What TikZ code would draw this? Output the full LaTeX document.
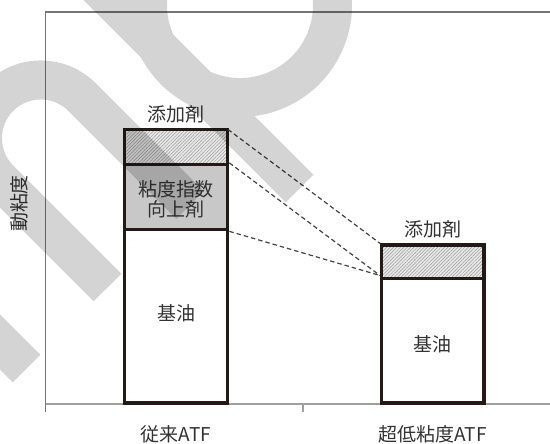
\documentclass[tikz,border=0pt]{standalone}
\usepackage{fontspec}
\setmainfont{Noto Sans CJK JP}
\usetikzlibrary{patterns.meta}
\definecolor{ink}{RGB}{51,51,51}
\definecolor{barline}{RGB}{35,26,24}
\definecolor{frameline}{RGB}{118,118,118}
\definecolor{axisline}{RGB}{160,160,160}
\definecolor{vifill}{RGB}{200,200,200}
\definecolor{hatchbg}{RGB}{232,232,232}
\definecolor{hatchln}{RGB}{155,155,155}
\definecolor{dashline}{RGB}{68,68,68}
\begin{document}
\begin{tikzpicture}[x=1pt,y=-1pt,
  lbl/.style={font=\fontsize{19}{20.5}\selectfont, text=ink, inner sep=0pt, align=center},
  seg/.style={draw=barline, line width=3.3pt, inner sep=0pt},
  hatchseg/.style={seg, preaction={fill=hatchbg},
    pattern={Lines[angle=45,distance=2.4pt,line width=0.5pt]}, pattern color=hatchln},
  viseg/.style={seg, fill=vifill},
  baseseg/.style={seg, fill=white},
  dashconn/.style={draw=dashline, line width=1.2pt, dash pattern=on 4.5pt off 3pt},
  frame/.style={draw=frameline, line width=1.3pt},
  axis/.style={draw=axisline, line width=1.2pt},
  wmark/.style={draw=black, opacity=0.17, line width=39pt, line cap=butt, line join=round}
]
\useasboundingbox (0,0) rectangle (550,444);
\fill[white] (0,0) rectangle (550,444);

% frame and axis
\coordinate (ftl) at (45.7,12);
\coordinate (ftr) at (550,12);
\coordinate (fbl) at (45.7,412);
\coordinate (ax0) at (45.7,404);
\coordinate (ax1) at (550,404);
\coordinate (tk0) at (303,404);
\coordinate (tk1) at (303,412);
\draw[frame] (fbl) -- (ftl) -- (ftr);
\draw[axis] (ax0) -- (ax1);
\draw[axis] (tk0) -- (tk1);

% bar 1 (conventional ATF)
\node[baseseg, minimum width=103.4pt, minimum height=173.3pt] (b1base) at (176,316.35) {};
\node[viseg, minimum width=103.4pt, minimum height=65.2pt] (b1vi) at (176,197.1) {};
\node[hatchseg, minimum width=103.4pt, minimum height=34.8pt] (b1add) at (176,147.1) {};

% bar 2 (ultra low viscosity ATF)
\node[baseseg, minimum width=102.3pt, minimum height=124.7pt] (b2base) at (432.85,340.65) {};
\node[hatchseg, minimum width=102.3pt, minimum height=33.3pt] (b2add) at (432.85,261.65) {};

% dashed connectors
\coordinate (conv) at (380,275.5);
\draw[dashconn] (b1add.north east) -- (b2add.north west);
\draw[dashconn] (b1vi.north east) -- (conv);
\draw[dashconn] (b1vi.south east) -- (conv);

% labels
\node[lbl] (add1) at (176,114.5) {添加剤};
\node[lbl] (vi) at (176,199.5) {粘度指数\\向上剤};
\node[lbl] (base1) at (176,313.5) {基油};
\node[lbl] (add2) at (432.5,229.5) {添加剤};
\node[lbl] (base2) at (432.5,344) {基油};
\node[lbl, anchor=base] (cat1) at (176,441) {従来ATF};
\node[lbl, anchor=base] (cat2) at (432.5,441) {超低粘度ATF};
\node[lbl, rotate=90] (ylab) at (19,203.5) {動粘度};

% overlay marks
\begin{scope}
\clip (0,0) rectangle (550,444);
\draw[wmark]
  (-96,246) -- (26.5,368.5)
  (107.5,287.5) -- (-0.47,179.47) arc[start angle=135, end angle=315, radius=58.3] -- (190,205)
  (30.5,-80.5) -- (299.5,188.5)
  (240,5) circle[radius=92.5];
\end{scope}
\end{tikzpicture}
\end{document}
